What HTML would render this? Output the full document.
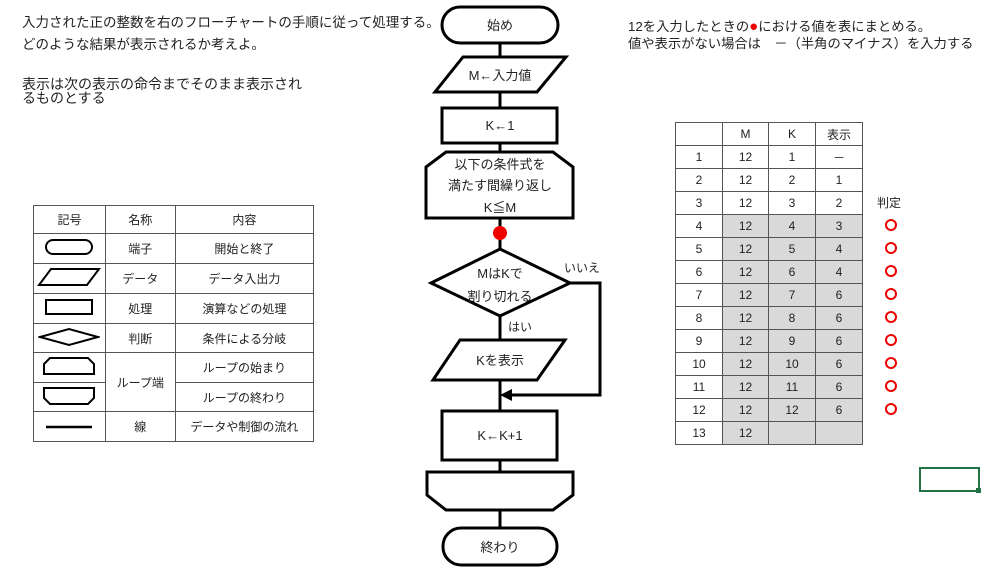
<!DOCTYPE html>
<html><head><meta charset="utf-8"><style>
body{margin:0;width:999px;height:577px;background:#fff;position:relative;font-family:"Liberation Sans","Noto Sans CJK JP",sans-serif;color:#222;overflow:hidden}
.t{position:absolute;white-space:nowrap;font-size:13.5px}
table{border-collapse:collapse;position:absolute}
td{border:1px solid #555;text-align:center;padding:0;font-size:12px}
</style></head><body>
<div class="t" style="left:22px;top:11px">入力された正の整数を右のフローチャートの手順に従って処理する。</div>
<div class="t" style="left:22px;top:33px">どのような結果が表示されるか考えよ。</div>
<div class="t" style="left:22px;top:77px;font-size:14px;line-height:14px">表示は次の表示の命令までそのまま表示され<br>るものとする</div>
<div class="t" style="left:628px;top:16px;font-size:13.3px">12を入力したときの<span style="color:#e00;font-size:15px">●</span>における値を表にまとめる。</div>
<div class="t" style="left:628px;top:33px;font-size:13.3px">値や表示がない場合は　－（半角のマイナス）を入力する</div>

<table style="left:33px;top:205px;width:281px">
<colgroup><col style="width:72px"><col style="width:70px"><col style="width:139px"></colgroup>
<tr style="height:28px"><td>記号</td><td>名称</td><td>内容</td></tr>
<tr style="height:30px"><td><svg width="50" height="18"><rect x="2" y="2" width="46" height="14" rx="7" fill="none" stroke="#000" stroke-width="2"/></svg></td><td>端子</td><td>開始と終了</td></tr>
<tr style="height:30px"><td><svg width="64" height="20"><polygon points="14,2 62,2 50,18 2,18" fill="none" stroke="#000" stroke-width="2"/></svg></td><td>データ</td><td>データ入出力</td></tr>
<tr style="height:30px"><td><svg width="50" height="18"><rect x="2" y="2" width="46" height="14" fill="none" stroke="#000" stroke-width="2"/></svg></td><td>処理</td><td>演算などの処理</td></tr>
<tr style="height:29px"><td><svg width="62" height="20"><polygon points="2,10 31,2 60,10 31,18" fill="none" stroke="#000" stroke-width="2"/></svg></td><td>判断</td><td>条件による分岐</td></tr>
<tr style="height:30px"><td><svg width="54" height="20"><polygon points="8,2 46,2 52,8 52,18 2,18 2,8" fill="none" stroke="#000" stroke-width="2"/></svg></td><td rowspan="2">ループ端</td><td>ループの始まり</td></tr>
<tr style="height:29px"><td><svg width="54" height="20"><polygon points="2,2 52,2 52,12 46,18 8,18 2,12" fill="none" stroke="#000" stroke-width="2"/></svg></td><td>ループの終わり</td></tr>
<tr style="height:30px"><td><svg width="50" height="8"><line x1="2" y1="4" x2="48" y2="4" stroke="#000" stroke-width="2.5"/></svg></td><td>線</td><td>データや制御の流れ</td></tr>
</table>

<svg style="position:absolute;left:0;top:0" width="999" height="577">
<g stroke="#000" stroke-width="3" fill="#fff">
<line x1="500" y1="43" x2="500" y2="528"/>
<polyline points="570,283 600,283 600,395 510,395" fill="none"/>
<rect x="442" y="7" width="116" height="36" rx="18"/>
<polygon points="463,57 566,57 537,92 435,92"/>
<rect x="442" y="108" width="115" height="35"/>
<polygon points="446,152 553,152 573,167 573,218 426,218 426,167"/>
<polygon points="500,249 570,283 500,316 431,283"/>
<polygon points="460,340 565,340 537,380 433,380"/>
<rect x="442" y="411" width="115" height="49"/>
<polygon points="427,472 573,472 573,495 553,510 446,510 427,495"/>
<rect x="443" y="528" width="114" height="37" rx="18"/>
</g>
<polygon points="500,395 512,389 512,401" fill="#000"/>
<circle cx="500" cy="233" r="7" fill="#e00"/>
<g font-size="13" text-anchor="middle" fill="#222" font-family="Liberation Sans,Noto Sans CJK JP,sans-serif">
<text x="500" y="30">始め</text>
<text x="500" y="80">M←入力値</text>
<text x="500" y="130">K←1</text>
<text x="500" y="169">以下の条件式を</text>
<text x="500" y="190">満たす間繰り返し</text>
<text x="500" y="212">K≦M</text>
<text x="500" y="278">MはKで</text>
<text x="500" y="301">割り切れる</text>
<text x="500" y="365">Kを表示</text>
<text x="500" y="440">K←K+1</text>
<text x="500" y="552">終わり</text>
<text x="582" y="272" font-size="12">いいえ</text>
<text x="520" y="331" font-size="12">はい</text>
</g>
<rect x="920" y="468" width="59" height="23" fill="none" stroke="#217346" stroke-width="2"/>
<rect x="976" y="488" width="5" height="5" fill="#217346"/>
</svg>

<table style="left:675px;top:122px;width:188px">
<colgroup><col style="width:47px"><col style="width:46px"><col style="width:47px"><col style="width:47px"></colgroup>
<tr style="height:23px"><td></td><td>M</td><td>K</td><td>表示</td></tr>
<tr style="height:23px"><td>1</td><td>12</td><td>1</td><td>－</td></tr>
<tr style="height:23px"><td>2</td><td>12</td><td>2</td><td>1</td></tr>
<tr style="height:23px"><td>3</td><td>12</td><td>3</td><td>2</td></tr>
<tr style="height:23px"><td>4</td><td style="background:#d9d9d9">12</td><td style="background:#d9d9d9">4</td><td style="background:#d9d9d9">3</td></tr>
<tr style="height:23px"><td>5</td><td style="background:#d9d9d9">12</td><td style="background:#d9d9d9">5</td><td style="background:#d9d9d9">4</td></tr>
<tr style="height:23px"><td>6</td><td style="background:#d9d9d9">12</td><td style="background:#d9d9d9">6</td><td style="background:#d9d9d9">4</td></tr>
<tr style="height:23px"><td>7</td><td style="background:#d9d9d9">12</td><td style="background:#d9d9d9">7</td><td style="background:#d9d9d9">6</td></tr>
<tr style="height:23px"><td>8</td><td style="background:#d9d9d9">12</td><td style="background:#d9d9d9">8</td><td style="background:#d9d9d9">6</td></tr>
<tr style="height:23px"><td>9</td><td style="background:#d9d9d9">12</td><td style="background:#d9d9d9">9</td><td style="background:#d9d9d9">6</td></tr>
<tr style="height:23px"><td>10</td><td style="background:#d9d9d9">12</td><td style="background:#d9d9d9">10</td><td style="background:#d9d9d9">6</td></tr>
<tr style="height:23px"><td>11</td><td style="background:#d9d9d9">12</td><td style="background:#d9d9d9">11</td><td style="background:#d9d9d9">6</td></tr>
<tr style="height:23px"><td>12</td><td style="background:#d9d9d9">12</td><td style="background:#d9d9d9">12</td><td style="background:#d9d9d9">6</td></tr>
<tr style="height:23px"><td>13</td><td style="background:#d9d9d9">12</td><td style="background:#d9d9d9"></td><td style="background:#d9d9d9"></td></tr>
</table>
<div class="t" style="left:877px;top:194px;font-size:12px">判定</div>
<svg style="position:absolute;left:880px;top:214px" width="24" height="205">
<g fill="none" stroke="#e00" stroke-width="2">
<circle cx="11" cy="11" r="5"/><circle cx="11" cy="34" r="5"/><circle cx="11" cy="57" r="5"/><circle cx="11" cy="80" r="5"/><circle cx="11" cy="103" r="5"/><circle cx="11" cy="126" r="5"/><circle cx="11" cy="149" r="5"/><circle cx="11" cy="172" r="5"/><circle cx="11" cy="195" r="5"/>
</g></svg>
</body></html>
